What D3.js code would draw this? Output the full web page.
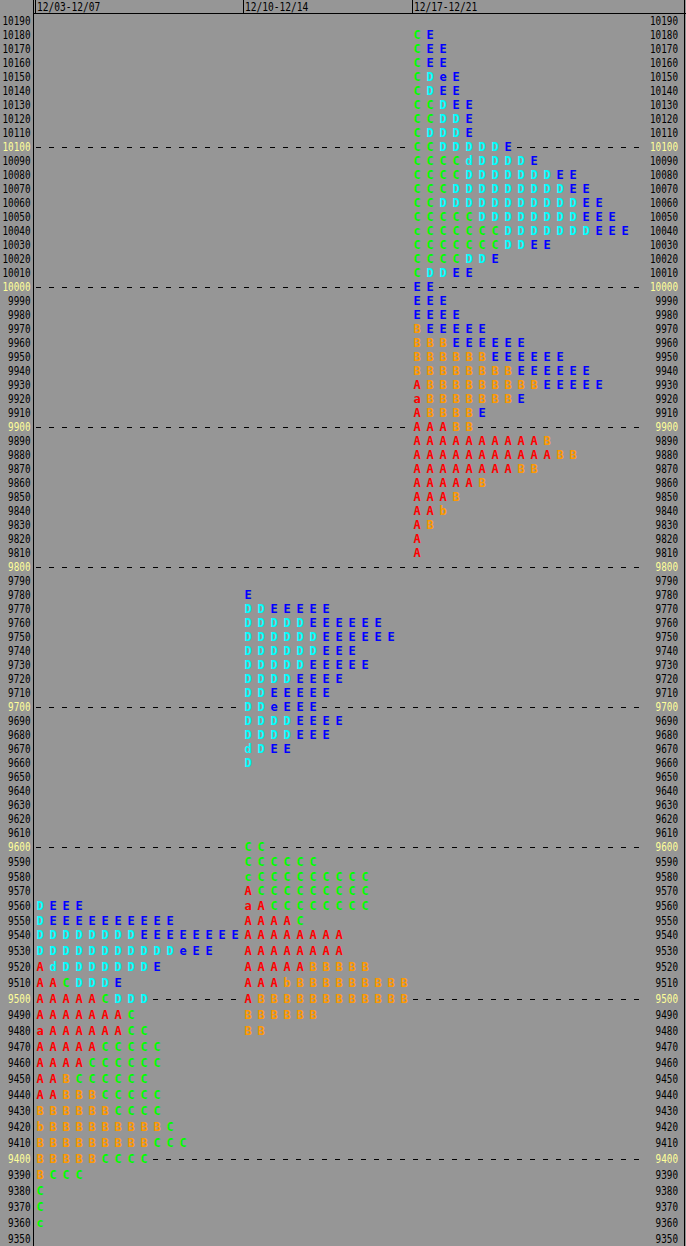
<!DOCTYPE html>
<html><head><meta charset="utf-8">
<script src="https://cdn.jsdelivr.net/npm/d3@7"></script>
<style>body{margin:0;background:#969696;overflow:hidden}svg{display:block}</style>
</head><body><svg id="c" width="686" height="1246"></svg>
<script>
// ---- data ----
const sessions = ["12/03-12/07", "12/10-12/14", "12/17-12/21"];
const priceTicks = d3.range(10190, 9349, -10);
const gridPrices = [10100, 10000, 9900, 9800, 9700, 9600, 9500, 9400];

const profile1 = [
  [9560, "DEEE"],
  [9550, "DEEEEEEEEEE"],
  [9540, "DDDDDDDDEEEEEEEE"],
  [9530, "DDDDDDDDDDDeEE"],
  [9520, "AdDDDDDDDE"],
  [9510, "AACDDDE"],
  [9500, "AAAAACDDD"],
  [9490, "AAAAAAAC"],
  [9480, "aAAAAAACC"],
  [9470, "AAAAACCCCC"],
  [9460, "AAAACCCCCC"],
  [9450, "AABCCCCCC"],
  [9440, "AABBBCCCCC"],
  [9430, "BBBBBBCCCC"],
  [9420, "bBBBBBBBBBC"],
  [9410, "BBBBBBBBBCCC"],
  [9400, "BBBBBCCCC"],
  [9390, "BCCC"],
  [9380, "C"],
  [9370, "C"],
  [9360, "c"]
];
const profile2 = [
  [9780, "E"],
  [9770, "DDEEEEE"],
  [9760, "DDDDDEEEEEE"],
  [9750, "DDDDDDEEEEEE"],
  [9740, "DDDDDDEEE"],
  [9730, "DDDDDEEEEE"],
  [9720, "DDDDEEEE"],
  [9710, "DDEEEEE"],
  [9700, "DDeEEE"],
  [9690, "DDDDEEEE"],
  [9680, "DDDDEEE"],
  [9670, "dDEE"],
  [9660, "D"],
  [9600, "CC"],
  [9590, "CCCCCC"],
  [9580, "cCCCCCCCCC"],
  [9570, "ACCCCCCCCC"],
  [9560, "aACCCCCCCC"],
  [9550, "AAAAC"],
  [9540, "AAAAAAAA"],
  [9530, "AAAAAAAA"],
  [9520, "AAAAABBBBB"],
  [9510, "AAAbBBBBBBBBB"],
  [9500, "ABBBBBBBBBBBB"],
  [9490, "BBBBBB"],
  [9480, "BB"]
];
const profile3 = [
  [10180, "CE"],
  [10170, "CEE"],
  [10160, "CEE"],
  [10150, "CDeE"],
  [10140, "CDEE"],
  [10130, "CCDEE"],
  [10120, "CCDDE"],
  [10110, "CDDDE"],
  [10100, "CCDDDDDE"],
  [10090, "CCCCdDDDDE"],
  [10080, "CCCCDDDDDDDEE"],
  [10070, "CCCDDDDDDDDDEE"],
  [10060, "CCDDDDDDDDDDDEE"],
  [10050, "CCCCCDDDDDDDDEEE"],
  [10040, "cCCCCCCDDDDDDDEEE"],
  [10030, "CCCCCCCDDEE"],
  [10020, "CCCCDDE"],
  [10010, "CDDEE"],
  [10000, "EE"],
  [9990, "EEE"],
  [9980, "EEEE"],
  [9970, "BEEEEE"],
  [9960, "BBBEEEEEE"],
  [9950, "BBBBBBEEEEEE"],
  [9940, "BBBBBBBBEEEEEE"],
  [9930, "ABBBBBBBBBEEEEE"],
  [9920, "aBBBBBBBE"],
  [9910, "ABBBBE"],
  [9900, "AAABB"],
  [9890, "AAAAAAAAAAB"],
  [9880, "AAAAAAAAAAABB"],
  [9870, "AAAAAAAABB"],
  [9860, "AAAAAB"],
  [9850, "AAAB"],
  [9840, "AAb"],
  [9830, "AB"],
  [9820, "A"],
  [9810, "A"]
];
const profiles = [profile1, profile2, profile3];
const letterColors = {A: "#ff0000", B: "#ff9900", C: "#00ff00", D: "#00ffff", E: "#0000ff"};

// ---- layout ----
const W = 686, H = 1246;
const nCols = 47;
const svg = d3.select("#c");
svg.append("rect").attr("width", W).attr("height", H).attr("fill", "#969696");

const x = d3.scaleLinear().domain([0, nCols - 1]).range([40, 40 + 13 * (nCols - 1)]);
const y = d3.scaleLinear().domain([10190, 9600, 9540, 9350]).range([21, 847, 935, 1239]);
const color = d3.scaleOrdinal().domain(Object.keys(letterColors)).range(Object.values(letterColors));

// column offsets from max profile widths
const offsets = [];
let acc = 0;
profiles.forEach(p => { offsets.push(acc); acc += d3.max(p, r => r[1].length); });

// occupied cells
const cells = [];
const occupied = new Set();
profiles.forEach((p, i) => {
  p.forEach(([price, s]) => {
    [...s].forEach((ch, k) => {
      const col = offsets[i] + k;
      cells.push({price, col, ch});
      occupied.add(price + ":" + col);
    });
  });
});

const labelFont = "'DejaVu Sans Mono', monospace";
const charW = 5.6;

// frame lines
svg.append("line").attr("x1", 33.5).attr("x2", 33.5).attr("y1", 0).attr("y2", H).attr("stroke", "#000");
svg.append("line").attr("x1", 33.5).attr("x2", W).attr("y1", 13.5).attr("y2", 13.5).attr("stroke", "#000");
svg.append("line").attr("x1", 684.5).attr("x2", 684.5).attr("y1", 0).attr("y2", H).attr("stroke", "#000");

// header
sessions.forEach((s, i) => {
  const cx = x(offsets[i]);
  svg.append("line").attr("x1", cx - 4.5).attr("x2", cx - 4.5).attr("y1", 0).attr("y2", 13).attr("stroke", "#000");
  svg.append("text").attr("x", cx - 3).attr("y", 11)
    .attr("font-family", labelFont).attr("font-size", 12)
    .attr("textLength", s.length * 5.75).attr("lengthAdjust", "spacingAndGlyphs")
    .attr("fill", "#000").text(s);
});

// price labels both sides
const isMajor = v => v % 100 === 0;
[[30.5, "left"], [678, "right"]].forEach(([xe]) => {
  svg.append("g").selectAll("text").data(priceTicks).join("text")
    .attr("x", d => xe - String(d).length * charW)
    .attr("y", d => y(d) + 4.4)
    .attr("font-family", labelFont).attr("font-size", 12)
    .attr("textLength", d => String(d).length * charW).attr("lengthAdjust", "spacingAndGlyphs")
    .attr("fill", d => isMajor(d) ? "#ffff99" : "#000")
    .text(d => d);
});

// dashed grid lines in empty cells
const dashes = [];
gridPrices.forEach(p => {
  d3.range(nCols).forEach(c => { if (!occupied.has(p + ":" + c)) dashes.push({p, c}); });
});
svg.append("g").selectAll("line").data(dashes).join("line")
  .attr("x1", d => x(d.c) - 4).attr("x2", d => x(d.c) + 1)
  .attr("y1", d => Math.round(y(d.p)) + 0.5).attr("y2", d => Math.round(y(d.p)) + 0.5)
  .attr("stroke", "#000").attr("stroke-width", 1);

// letters
svg.append("g").selectAll("text").data(cells).join("text")
  .attr("x", d => x(d.col))
  .attr("y", d => y(d.price) + 4.4)
  .attr("text-anchor", "middle")
  .attr("font-family", labelFont).attr("font-weight", "bold").attr("font-size", 12)
  .attr("fill", d => color(d.ch.toUpperCase()))
  .text(d => d.ch);
</script>
</body></html>
